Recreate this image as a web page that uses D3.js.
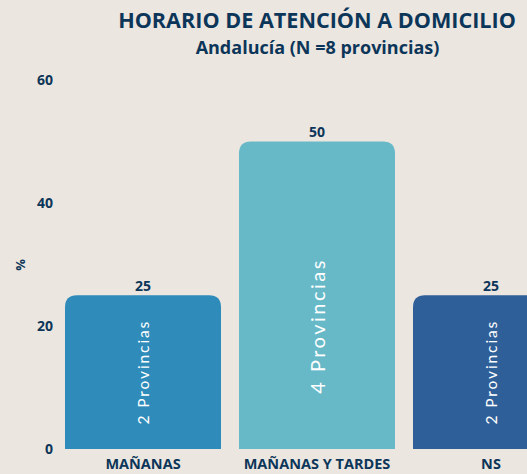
<!DOCTYPE html>
<html><head><meta charset="utf-8">
<script src="https://cdn.jsdelivr.net/npm/d3@7"></script>
<style>
html,body{margin:0;padding:0;background:#ece6e0;overflow:hidden;}
svg{display:block;font-family:"Open Sans","Noto Sans",sans-serif;}
</style></head><body>
<svg id="c" width="527" height="474"></svg>
<script>
const categories = ["MAÑANAS", "MAÑANAS Y TARDES", "NS"];
const values = [25, 50, 25];
const barLabels = ["2 Provincias", "4 Provincias", "2 Provincias"];
const yTicks = [0, 20, 40, 60];
const colors = ["#2e8bba", "#68b9c8", "#2f5f99"];
const title = "HORARIO DE ATENCIÓN A DOMICILIO";
const subtitle = "Andalucía (N =8 provincias)";
const navy = "#0c3659";

const svg = d3.select("#c");
const x = d3.scaleBand().domain(categories).range([56, 578]).paddingInner(0.1034).paddingOuter(0.0517);
const y = d3.scaleLinear().domain([0, 60]).range([449, 80]);

svg.append("text").attr("x", 317).attr("y", 27.5).attr("text-anchor", "middle")
  .attr("font-size", 21.6).attr("font-weight", 700).attr("fill", navy).text(title);
svg.append("text").attr("x", 317.5).attr("y", 54).attr("text-anchor", "middle")
  .attr("font-size", 18).attr("font-weight", 700).attr("fill", navy).text(subtitle);

// y axis
const yAxis = svg.append("g").attr("transform", "translate(53,0)")
  .call(d3.axisLeft(y).tickValues(yTicks).tickSize(0).tickPadding(0));
yAxis.select(".domain").remove();
yAxis.selectAll("text").attr("font-size", 14).attr("font-weight", 700).attr("fill", navy)
  .attr("font-family", "'Open Sans','Noto Sans',sans-serif");
svg.append("text").attr("transform", "translate(20,265) rotate(-90)").attr("text-anchor", "middle")
  .attr("dominant-baseline", "central").attr("font-size", 13).attr("font-weight", 700).attr("fill", navy).text("%");

// bars with rounded top corners
const r = 12;
function barPath(x0, w, yt, yb) {
  return `M${x0},${yb}V${yt + r}Q${x0},${yt} ${x0 + r},${yt}H${x0 + w - r}Q${x0 + w},${yt} ${x0 + w},${yt + r}V${yb}Z`;
}
const data = categories.map((c, i) => ({c, v: values[i], lab: barLabels[i], col: colors[i]}));
svg.selectAll("path.bar").data(data).enter().append("path").attr("class", "bar")
  .attr("d", d => barPath(x(d.c), x.bandwidth(), y(d.v), y(0)))
  .attr("fill", d => d.col);

svg.selectAll("text.val").data(data).enter().append("text").attr("class", "val")
  .attr("x", d => x(d.c) + x.bandwidth() / 2).attr("y", d => y(d.v) - 4.5)
  .attr("text-anchor", "middle").attr("font-size", 14).attr("font-weight", 700).attr("fill", navy)
  .text(d => d.v);

svg.selectAll("text.inner").data(data).enter().append("text").attr("class", "inner")
  .attr("transform", d => `translate(${x(d.c) + x.bandwidth() / 2},${y(Math.min(d.v / 2, 20))}) rotate(-90)`)
  .attr("text-anchor", "middle").attr("dominant-baseline", "central")
  .attr("font-family", "Lato,'Open Sans',sans-serif")
  .attr("font-size", d => d.v >= 50 ? 20 : 15.5).attr("letter-spacing", d => d.v >= 50 ? 2.5 : 1.9)
  .attr("fill", "#ffffff").text(d => d.lab);

// x axis
const xAxis = svg.append("g").attr("transform", "translate(0,449)")
  .call(d3.axisBottom(x).tickSize(0).tickPadding(0));
xAxis.select(".domain").remove();
xAxis.selectAll("text").attr("dy", 0).attr("y", 20).attr("font-size", 14.5).attr("font-weight", 700).attr("fill", navy)
  .attr("font-family", "'Open Sans','Noto Sans',sans-serif");
</script>
</body></html>
